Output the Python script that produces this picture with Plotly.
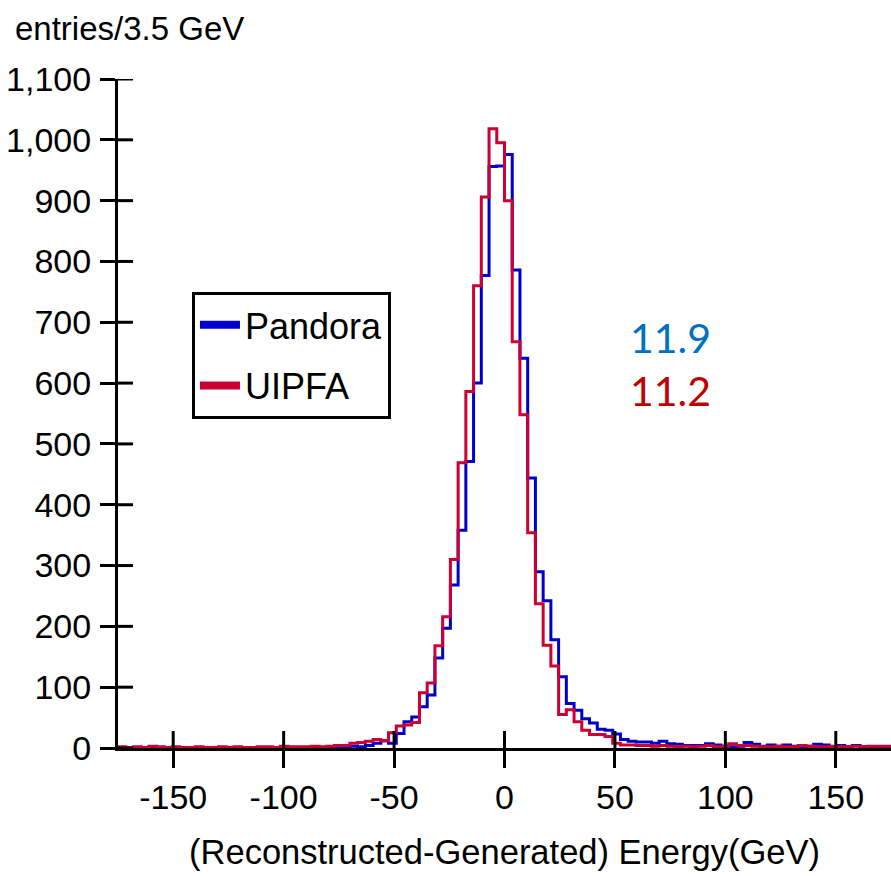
import numpy as np
import plotly.graph_objects as go

# ---- binning ----
bin_lo = -175.0
bin_width = 3.5
n_bins = 100

# ---- series values (entries per 3.5 GeV bin, left edge -175 .. 171.5) ----
pandora_counts = [
    1, 0, 1, 0, 1, 1, 0, 1, 0, 0,
    1, 0, 1, 0, 1, 0, 1, 0, 1, 1,
    0, 2, 1, 1, 1, 2, 1, 1, 2, 2,
    3, 2, 4, 8, 12, 8, 24, 43, 51, 68,
    87, 148, 197, 268, 358, 471, 600, 777, 956, 957,
    976, 786, 641, 444, 290, 242, 178, 117, 73, 62,
    48, 41, 31, 29, 23, 14, 11, 10, 10, 8,
    11, 7, 6, 4, 4, 4, 7, 5, 3, 2,
    3, 9, 6, 3, 5, 3, 5, 3, 2, 3,
    6, 5, 2, 4, 2, 4, 2, 1, 2, 1,
]
uipfa_counts = [
    2, 1, 2, 1, 3, 2, 1, 2, 1, 1,
    2, 1, 1, 2, 1, 2, 1, 1, 2, 2,
    1, 3, 2, 2, 2, 3, 2, 3, 4, 4,
    8, 9, 11, 14, 12, 25, 36, 38, 42, 91,
    107, 168, 216, 310, 469, 586, 760, 906, 1018, 995,
    900, 668, 548, 354, 237, 169, 135, 55, 63, 43,
    29, 22, 22, 19, 8, 5, 5, 4, 4, 3,
    4, 3, 2, 3, 2, 3, 4, 2, 3, 7,
    4, 4, 3, 2, 2, 3, 2, 2, 4, 3,
    2, 2, 3, 2, 2, 3, 2, 3, 3, 3,
]

series_names = ["Pandora", "UIPFA"]
resolution_labels = ["11.9", "11.2"]

x_tickvals = [-150, -100, -50, 0, 50, 100, 150]
x_ticktext = ["-150", "-100", "-50", "0", "50", "100", "150"]
y_tickvals = [0, 100, 200, 300, 400, 500, 600, 700, 800, 900, 1000, 1100]

# ---- styles ----
BLUE = "#0000CC"
RED = "#CC0033"
ARIAL = "Liberation Sans, Arial, sans-serif"
PLOT_H = 876 - 79 - 128
PLOT_W = 891 - 118
X_TICK_IN = 17   # px the x ticks reach into the plot
Y_TICK_IN = 15   # px the y ticks reach into the plot

edges = bin_lo + bin_width * np.arange(n_bins + 1)


def step_xy(counts):
    xs = list(edges)
    ys = list(counts) + [counts[-1]]
    return xs, ys


fig = go.Figure()

xb, yb = step_xy(pandora_counts)
fig.add_trace(go.Scatter(x=xb, y=yb, mode="lines", line=dict(color=BLUE, width=3, shape="hv"),
                         showlegend=False, hoverinfo="skip"))
xr, yr = step_xy(uipfa_counts)
fig.add_trace(go.Scatter(x=xr, y=yr, mode="lines", line=dict(color=RED, width=3, shape="hv"),
                         showlegend=False, hoverinfo="skip"))

# legend entries (thicker line symbols as in the reference)
for name, col in zip(series_names, [BLUE, RED]):
    fig.add_trace(go.Scatter(x=[None], y=[None], mode="lines", name=name, legendgroup=name,
                             line=dict(color=col, width=8)))

# inner halves of the crossing tick marks
tick_shapes = []
for v in x_tickvals:
    tick_shapes.append(dict(type="line", xref="x", yref="paper", x0=v, x1=v,
                            y0=0, y1=X_TICK_IN / PLOT_H, layer="above",
                            line=dict(color="black", width=3)))
for v in y_tickvals:
    tick_shapes.append(dict(type="line", xref="paper", yref="y", x0=0, x1=Y_TICK_IN / PLOT_W,
                            y0=v, y1=v, layer="above",
                            line=dict(color="black", width=3)))

axis_common = dict(showgrid=False, zeroline=False)

fig.update_layout(
    width=891, height=876,
    margin=dict(l=118, r=0, t=79, b=128, pad=0),
    plot_bgcolor="white", paper_bgcolor="white",
    separators=".,",
    xaxis=dict(range=[-175, 175], showline=True, linewidth=3, linecolor="black",
               ticks="outside", ticklen=17, tickwidth=3, tickcolor="black",
               tickvals=x_tickvals, ticktext=x_ticktext,
               tickfont=dict(family=ARIAL, size=34, color="black"),
               title=dict(text="(Reconstructed-Generated) Energy(GeV)",
                          font=dict(family=ARIAL, size=34.5, color="black"), standoff=26),
               **axis_common),
    yaxis=dict(range=[0, 1100], showline=True, linewidth=3, linecolor="black",
               ticks="outside", ticklen=15, tickwidth=3, tickcolor="black",
               tickvals=y_tickvals, tickformat=",",
               ticklabelstandoff=2,
               tickfont=dict(family=ARIAL, size=34, color="black"),
               **axis_common),
    shapes=tick_shapes,
    title=dict(text="entries/3.5 GeV", x=15 / 891, xanchor="left", xref="container",
               y=1 - 28 / 876, yanchor="middle", yref="container",
               font=dict(family=ARIAL, size=33, color="black")),
    legend=dict(x=0.0957, y=0.682, xanchor="left", yanchor="top",
                bordercolor="black", borderwidth=3, bgcolor="white",
                font=dict(family=ARIAL, size=36, color="black"),
                itemwidth=40, tracegroupgap=11),
    showlegend=True,
    annotations=[
        dict(x=75, y=675, xref="x", yref="y", text=resolution_labels[0], showarrow=False,
             font=dict(family="Lato, Open Sans, sans-serif", size=41, color="#0070C0")),
        dict(x=75, y=588, xref="x", yref="y", text=resolution_labels[1], showarrow=False,
             font=dict(family="Lato, Open Sans, sans-serif", size=41, color="#C00000")),
    ],
)

fig.write_html("out.html", config={"displayModeBar": False},
               post_script="document.body.style.margin='0';document.body.style.overflow='hidden';")
